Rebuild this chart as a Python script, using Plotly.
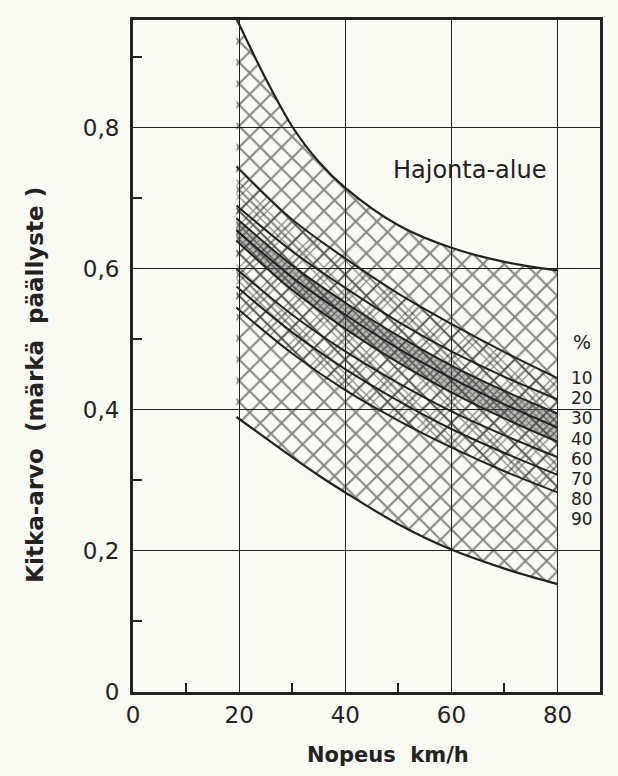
import plotly.graph_objects as go

# ---- data ----
speed_env = [19.5, 25, 30, 35, 40, 50, 60, 70, 80]
upper_env = [0.955, 0.87, 0.802, 0.752, 0.715, 0.662, 0.63, 0.61, 0.598]
lower_env = [0.39, 0.36, 0.333, 0.307, 0.283, 0.238, 0.202, 0.175, 0.153]

speed = [19.5, 30, 40, 50, 60, 70, 80]
pct_labels = ["10", "20", "30", "40", "60", "70", "80", "90"]
pct_curves = {
    "10": [0.745, 0.67, 0.615, 0.565, 0.522, 0.482, 0.445],
    "20": [0.69, 0.625, 0.573, 0.525, 0.483, 0.447, 0.415],
    "30": [0.672, 0.605, 0.552, 0.505, 0.463, 0.427, 0.395],
    "40": [0.655, 0.588, 0.535, 0.487, 0.445, 0.408, 0.375],
    "60": [0.64, 0.570, 0.515, 0.467, 0.425, 0.388, 0.355],
    "70": [0.60, 0.535, 0.483, 0.438, 0.398, 0.364, 0.333],
    "80": [0.575, 0.510, 0.458, 0.413, 0.373, 0.339, 0.308],
    "90": [0.545, 0.480, 0.428, 0.385, 0.347, 0.313, 0.283],
}

x_ticks = [0, 20, 40, 60, 80]
y_ticks = [0, 0.2, 0.4, 0.6, 0.8]
y_ticktext = ["0", "0,2", "0,4", "0,6", "0,8"]

INK = "#222222"
BG = "#fafaf4"
FONT = "DejaVu Sans"

fig = go.Figure()

# envelope (Hajonta-alue)
fig.add_trace(go.Scatter(x=speed_env, y=lower_env, mode="lines",
                         line=dict(color=INK, width=2.2, shape="spline"),
                         hoverinfo="skip"))
fig.add_trace(go.Scatter(x=speed_env, y=upper_env, mode="lines",
                         line=dict(color=INK, width=2.2, shape="spline"),
                         fill="tonexty", fillcolor="rgba(0,0,0,0)",
                         fillpattern=dict(shape="x", size=15, solidity=0.25,
                                          fgcolor="#111111", bgcolor="rgba(0,0,0,0)"),
                         hoverinfo="skip"))

# inner band 10 % - 90 %
fig.add_trace(go.Scatter(x=speed, y=pct_curves["90"], mode="lines",
                         line=dict(color=INK, width=2, shape="spline"),
                         hoverinfo="skip"))
fig.add_trace(go.Scatter(x=speed, y=pct_curves["10"], mode="lines",
                         line=dict(color=INK, width=2, shape="spline"),
                         fill="tonexty", fillcolor="rgba(0,0,0,0)",
                         fillpattern=dict(shape="x", size=10, solidity=0.22,
                                          fgcolor="#111111", bgcolor="rgba(0,0,0,0)"),
                         hoverinfo="skip"))

# dense core 30 % - 60 %
fig.add_trace(go.Scatter(x=speed, y=pct_curves["60"], mode="lines",
                         line=dict(color=INK, width=2, shape="spline"),
                         hoverinfo="skip"))
fig.add_trace(go.Scatter(x=speed, y=pct_curves["30"], mode="lines",
                         line=dict(color=INK, width=2, shape="spline"),
                         fill="tonexty", fillcolor="rgba(0,0,0,0)",
                         fillpattern=dict(shape="x", size=5, solidity=0.4,
                                          fgcolor="#333333", bgcolor="rgba(110,110,110,0.45)"),
                         hoverinfo="skip"))

for p in ["20", "40", "70", "80"]:
    fig.add_trace(go.Scatter(x=speed, y=pct_curves[p], mode="lines",
                             line=dict(color=INK, width=2, shape="spline"),
                             hoverinfo="skip"))

# labels
fig.add_annotation(x=63.5, y=0.74, text="Hajonta-alue", showarrow=False,
                   font=dict(family=FONT, size=24, color=INK))
fig.add_annotation(x=84.7, y=0.497, text="%", showarrow=False,
                   font=dict(family=FONT, size=19, color=INK))
for i, p in enumerate(pct_labels):
    fig.add_annotation(x=84.7, y=0.445 - i * 0.0285, text=p, showarrow=False,
                       font=dict(family=FONT, size=17, color=INK))

# axis titles
fig.add_annotation(xref="paper", yref="paper", x=-0.21, y=0.457,
                   xanchor="center", yanchor="middle",
                   text="<b>Kitka-arvo  (märkä  päällyste )</b>", textangle=-90,
                   showarrow=False, font=dict(family=FONT, size=23, color=INK))
fig.add_annotation(xref="paper", yref="paper", x=0.546, y=-0.094,
                   xanchor="center", yanchor="middle",
                   text="<b>Nopeus  km/h</b>", showarrow=False,
                   font=dict(family=FONT, size=21, color=INK))

fig.update_layout(
    width=618, height=776,
    margin=dict(l=133, r=18, t=20, b=84),
    paper_bgcolor=BG, plot_bgcolor=BG,
    showlegend=False,
    font=dict(family=FONT, color=INK),
    xaxis=dict(range=[0, 88], tickvals=x_ticks, ticktext=[str(v) for v in x_ticks],
               showgrid=True, gridcolor=INK, gridwidth=1.2,
               showline=True, linecolor=INK, linewidth=3, mirror=True,
               ticks="", zeroline=False,
               minor=dict(ticks="inside", ticklen=9, tickcolor=INK, tickwidth=1.5,
                          tickvals=[10, 30, 50, 70], showgrid=False),
               tickfont=dict(family=FONT, size=23, color=INK)),
    yaxis=dict(range=[0, 0.953], tickvals=y_ticks, ticktext=y_ticktext,
               showgrid=True, gridcolor=INK, gridwidth=1.2,
               showline=True, linecolor=INK, linewidth=3, mirror=True,
               ticks="", zeroline=False,
               minor=dict(ticks="inside", ticklen=9, tickcolor=INK, tickwidth=1.5,
                          tickvals=[0.1, 0.3, 0.5, 0.7, 0.9], showgrid=False),
               tickfont=dict(family=FONT, size=23, color=INK),
               ticklabelstandoff=6),
)

fig.write_html("out.html")
